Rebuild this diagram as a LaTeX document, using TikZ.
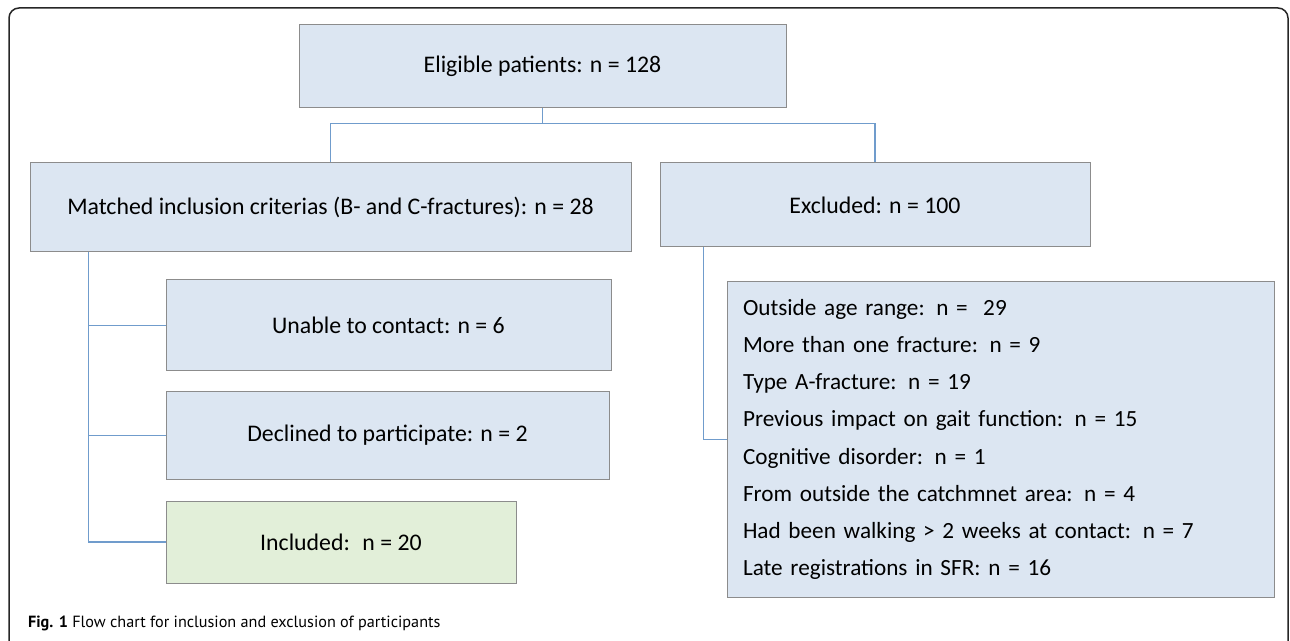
\documentclass[tikz,border=0pt]{standalone}
\usepackage{fontspec}
\setmainfont{Carlito}
\newfontfamily\capfont{PT Sans}
\definecolor{boxblue}{RGB}{220,230,242}
\definecolor{boxgreen}{RGB}{226,239,217}
\definecolor{boxline}{RGB}{140,140,140}
\definecolor{linkblue}{RGB}{112,156,204}

\begin{document}
\begin{tikzpicture}[x=0.5pt, y=-0.5pt,
    box/.style={draw=boxline, fill=boxblue, line width=0.5pt, inner sep=0pt,
        font=\fontsize{11.9}{14}\selectfont},
    link/.style={draw=linkblue, line width=0.7pt}]
    \useasboundingbox (0,0) rectangle (1290,641);
    \clip (0,0) rectangle (1290,641);
    \draw[line width=0.75pt, rounded corners=5pt, black!85] (9,8) rectangle (1288,660);

    \node[box, minimum width=243.5pt, minimum height=41.5pt] (elig) at (542.5,66.5) {Eligible patients: n = 128};
    \node[box, minimum width=300.5pt, minimum height=44.5pt] (match) at (330.5,207.5) {Matched inclusion criterias (B- and C-fractures): n = 28};
    \node[box, minimum width=215pt, minimum height=42pt] (excl) at (875,205) {Excluded: n = 100};

    \node[box, minimum width=222.5pt, minimum height=45.5pt] (unable) at (388.5,325.5) {Unable to contact: n = 6};
    \node[box, minimum width=221.5pt, minimum height=43.5pt] (declined) at (387.5,435.5) {Declined to participate: n = 2};
    \node[box, fill=boxgreen, minimum width=175pt, minimum height=41pt] (included) at (341,542) {Included: \ n = 20};

    \node[box, minimum height=157.5pt, text width=257.5pt, inner xsep=8pt, align=left,
        font=\fontsize{11.6}{18.6}\selectfont] (list) at (1000.5,439.5)
        {Outside age range: n = \ 29\\
         More than one fracture: n = 9\\
         Type A-fracture: n = 19\\
         Previous impact on gait function: n = 15\\
         Cognitive disorder: n = 1\\
         From outside the catchmnet area: n = 4\\
         Had been walking > 2 weeks at contact: n = 7\\
         Late registrations in SFR: n = 16};

    % connectors
    \draw[link] (elig.south) -- ++(0,15) coordinate (split);
    \draw[link] (match.north) |- (split) -| (excl.north);
    \coordinate (trunk) at ([xshift=29.5pt]match.south west);
    \draw[link] (trunk) |- (included.west);
    \foreach \n in {unable,declined}
        \draw[link] (\n.west) -- (\n.west -| trunk);
    \draw[link] ([xshift=22pt]excl.south west) |- (list.west);

    \node[anchor=base west, font=\capfont\fontsize{8.1}{9}\selectfont] (caption) at (21,627)
        {\textbf{Fig. 1} Flow chart for inclusion and exclusion of participants};
\end{tikzpicture}
\end{document}
